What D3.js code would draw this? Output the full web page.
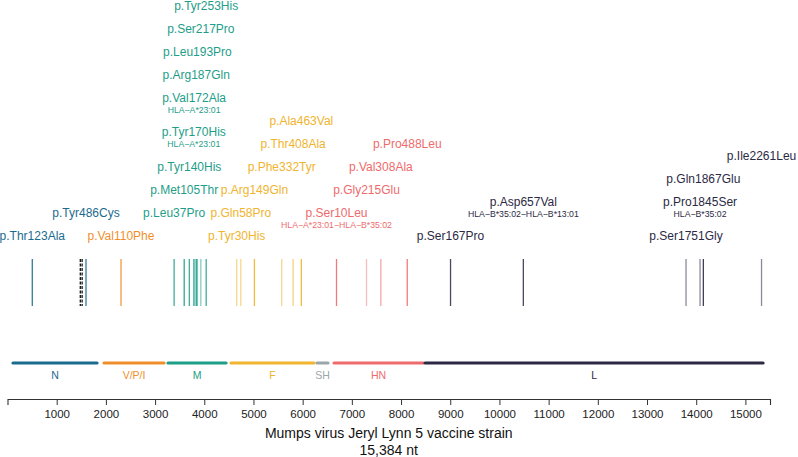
<!DOCTYPE html>
<html><head><meta charset="utf-8">
<script src="https://cdn.jsdelivr.net/npm/d3@7"></script>
<style>body{margin:0;background:#fff}svg{display:block;font-family:"Liberation Sans",Arial,sans-serif}</style>
</head><body><svg id="c" width="798" height="457"></svg>
<script>
// ---- data ----
const genes      = ["N", "V/P/I", "M", "F", "SH", "HN", "L"];
const geneStart  = [112, 1962, 3263, 4544, 6292, 6638, 8488];
const geneEnd    = [1820, 3182, 4442, 6231, 6515, 8447, 15359];
const geneColors = ["#1b6b8f", "#ef8f2c", "#1d9e88", "#f0b42e", "#9aa6a9", "#ee6b6c", "#2c2944"];

const mutNames = ["p.Thr123Ala","p.Tyr486Cys","p.Val110Phe",
  "p.Leu37Pro","p.Met105Thr","p.Tyr140His","p.Tyr170His","p.Val172Ala","p.Arg187Gln","p.Leu193Pro","p.Ser217Pro","p.Tyr253His",
  "p.Tyr30His","p.Gln58Pro","p.Arg149Gln","p.Phe332Tyr","p.Thr408Ala","p.Ala463Val",
  "p.Ser10Leu","p.Gly215Glu","p.Val308Ala","p.Pro488Leu",
  "p.Ser167Pro","p.Asp657Val","p.Ser1751Gly","p.Pro1845Ser","p.Gln1867Glu","p.Ile2261Leu"];
const mutNt = [504, 1596, 2307,
  3387, 3592, 3696, 3787, 3793, 3836, 3861, 3930, 4039,
  4659, 4743, 5019, 5574, 5806, 5973,
  6688, 7298, 7589, 8126,
  9006, 10486, 13793, 14078, 14145, 15328];
const mutGene = ["N","N","V/P/I",
  "M","M","M","M","M","M","M","M","M",
  "F","F","F","F","F","F",
  "HN","HN","HN","HN",
  "L","L","L","L","L","L"];
const mutHLA = ["","","",
  "","","","HLA\u2212A*23:01","HLA\u2212A*23:01","","","","",
  "","","","","","",
  "HLA\u2212A*23:01\u2212HLA\u2212B*35:02","","","",
  "","HLA\u2212B*35:02\u2212HLA\u2212B*13:01","","HLA\u2212B*35:02","",""];
const mutAlpha = [0.9,0.9,0.9,
  0.85,0.9,0.85,0.6,0.6,1,0.6,0.55,0.85,
  0.55,0.55,0.9,0.55,0.6,0.9,
  0.9,0.45,0.6,0.9,
  0.85,0.85,0.55,0.55,0.9,0.55];
// extra markers (black dashed) near N
const dashedNt = [1480, 1517];
const tickValues = [1000,2000,3000,4000,5000,6000,7000,8000,9000,10000,11000,12000,13000,14000,15000];
const axisTitle = ["Mumps virus Jeryl Lynn 5 vaccine strain", "15,384 nt"];

// ---- layout (label stacking, pixel y centres) ----
const labelY = [236, 213, 236,
  213, 190, 167, 132, 98, 75, 52, 29, 6,
  236, 213, 190, 167, 144, 121,
  213, 190, 167, 144,
  236, 202, 236, 202, 179, 156];

// ---- drawing ----
const svg = d3.select("#c");
const x = d3.scaleLinear().domain([0, 15500]).range([7.5, 770]);
const color = d3.scaleOrdinal().domain(genes).range(geneColors);

const muts = mutNames.map((n,i)=>({name:n, nt:mutNt[i], gene:mutGene[i], hla:mutHLA[i], a:mutAlpha[i], y:labelY[i]}));

// mutation lines
svg.append("g").selectAll("line").data(muts).join("line")
  .attr("x1", d=>x(d.nt)).attr("x2", d=>x(d.nt))
  .attr("y1", 259).attr("y2", 306)
  .attr("stroke", d=>color(d.gene)).attr("stroke-opacity", d=>d.a)
  .attr("stroke-width", 1.3);

svg.append("g").selectAll("line").data(dashedNt).join("line")
  .attr("x1", d=>x(d)).attr("x2", d=>x(d))
  .attr("y1", 259).attr("y2", 306)
  .attr("stroke", "#111").attr("stroke-width", 1.3)
  .attr("stroke-dasharray", "3,1.5");

// labels
const lab = svg.append("g").attr("text-anchor","middle");
lab.selectAll("text.m").data(muts).join("text").attr("class","m")
  .attr("x", d=>x(d.nt)).attr("y", d=>d.y + 4.3)
  .attr("font-size", 12).attr("fill", d=>color(d.gene))
  .text(d=>d.name);
lab.selectAll("text.h").data(muts.filter(d=>d.hla)).join("text").attr("class","h")
  .attr("x", d=>x(d.nt)).attr("y", d=>d.y + 14.5)
  .attr("font-size", 8.7).attr("fill", d=>color(d.gene))
  .text(d=>d.hla);

// gene bars
const g = genes.map((n,i)=>({name:n, s:geneStart[i], e:geneEnd[i]}));
svg.append("g").selectAll("line").data(g).join("line")
  .attr("x1", d=>x(d.s)).attr("x2", d=>x(d.e))
  .attr("y1", 363).attr("y2", 363)
  .attr("stroke", d=>color(d.name)).attr("stroke-width", 3.2)
  .attr("stroke-linecap", "round");
svg.append("g").attr("text-anchor","middle").selectAll("text").data(g).join("text")
  .attr("x", d=>x((d.s+d.e)/2)).attr("y", 379)
  .attr("font-size", 10.5).attr("fill", d=>color(d.name))
  .text(d=>d.name);

// axis
const ax = svg.append("g").attr("transform","translate(0,399)")
  .call(d3.axisBottom(x).tickValues(tickValues).tickFormat(d3.format("d")).tickSize(6).tickSizeOuter(6));
ax.select(".domain").attr("stroke","#333").attr("stroke-width",1.1);
ax.selectAll(".tick line").attr("stroke","#333");
ax.selectAll(".tick text").attr("font-size",11.5).attr("fill","#222")
  .attr("font-family","Liberation Sans, Arial, sans-serif").attr("dy","0.9em");

svg.append("g").attr("text-anchor","middle").selectAll("text").data(axisTitle).join("text")
  .attr("x", (x(0)+x(15500))/2).attr("y",(d,i)=>438 + i*17)
  .attr("font-size", 14).attr("fill","#111").text(d=>d);
</script></body></html>
